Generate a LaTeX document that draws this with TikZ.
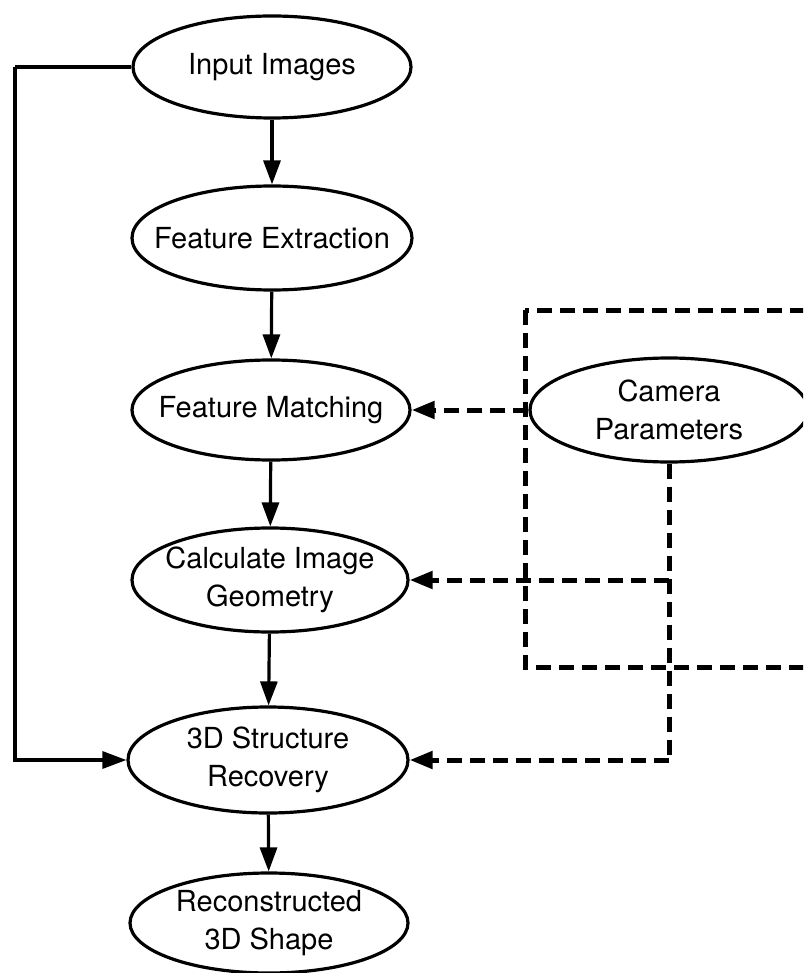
\documentclass[tikz,border=0pt]{standalone}
\usepackage{fontspec}
\setmainfont{TeX Gyre Heros}
\usetikzlibrary{shapes.geometric,arrows.meta}
\begin{document}
\begin{tikzpicture}[x=1pt,y=-1pt,
  stage/.style={ellipse,draw,line width=3.2pt,inner sep=0pt,
    minimum width=278pt,minimum height=102pt},
  caption/.style={align=center,inner sep=0pt,font=\fontsize{29}{38}\selectfont},
  flow/.style={line width=3.2pt,-{Triangle[length=24pt,width=17pt]}},
  link/.style={line width=3.2pt},
  dashflow/.style={line width=5pt,dash pattern=on 15pt off 8pt,
    -{Triangle[length=23pt,width=17pt]}},
  dashline/.style={line width=5pt,dash pattern=on 15pt off 8pt}]
\useasboundingbox (0,0) rectangle (803,973);
\clip (0,0) rectangle (803,973);
\fill[white] (0,0) rectangle (803,973);

% processing stages: fixed-size ellipses with centred captions
\node[stage,label={[caption]center:Input Images}] (in) at (272,67) {};
\node[stage,minimum width=280pt,minimum height=104pt,
  label={[caption]center:Feature Extraction}] (fe) at (272,238) {};
\node[stage,minimum width=278pt,minimum height=100pt,
  label={[caption]center:Feature Matching}] (fm) at (271,410) {};
\node[stage,minimum width=276pt,minimum height=104pt,
  label={[caption]center:Calculate Image\\Geometry}] (cg) at (270,580) {};
\node[stage,minimum width=280pt,minimum height=106pt,
  label={[caption]center:3D Structure\\Recovery}] (sr) at (268,760) {};
\node[stage,minimum width=278pt,minimum height=100pt,
  label={[caption]center:Reconstructed\\3D Shape}] (rs) at (269,923) {};
\node[stage,minimum width=278pt,minimum height=104pt,
  label={[caption]center:Camera\\Parameters}] (cp) at (669,410) {};

% dashed frame round the camera input
\draw[dashline] (525,310) rectangle (860,667);

% main pipeline
\draw[flow] (in) -- (fe);
\draw[flow] (fe) -- (fm);
\draw[flow] (fm) -- (cg);
\draw[flow] (cg) -- (sr);
\draw[flow] (sr) -- (rs);

% images passed straight to structure recovery
\coordinate (l1) at (15,67);
\draw[link] (in.west) -- (l1);
\draw[flow] (l1) |- (sr.west);

% camera parameters feed three stages
\draw[dashflow] (cp.west) -- (fm.east);
\draw[dashline] (cp.south) -- (cp.south |- sr.east);
\draw[dashflow] (cp.south |- cg.east) -- (cg.east);
\draw[dashflow] (cp.south |- sr.east) -- (sr.east);
\end{tikzpicture}
\end{document}
